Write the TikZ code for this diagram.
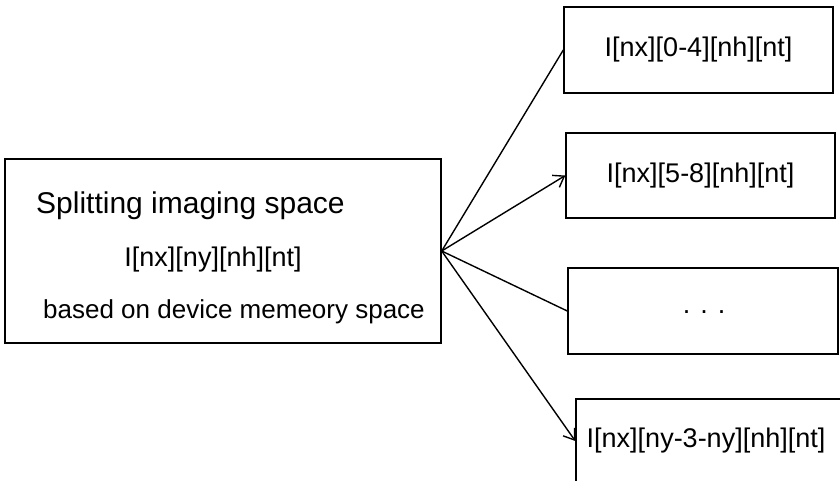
\documentclass[tikz,border=0pt]{standalone}
\usepackage{fontspec}
\setmainfont{Liberation Sans}
\usetikzlibrary{arrows.meta}
\begin{document}
\begin{tikzpicture}[x=1pt,y=-1pt,
  box/.style={draw,line width=1.4pt,rectangle,inner sep=0pt},
  conn/.style={line width=1.4pt},
  tip/.style={conn,-{Straight Barb[length=10pt,width=14pt,line width=1.4pt]}},
  lbl/.style={inner sep=0pt,font=\fontsize{27}{32}\selectfont}]
\useasboundingbox (0,0) rectangle (840,480);
\clip (0,0) rectangle (840,480);
% left box
\node[box,minimum width=436pt,minimum height=184pt] (L) at (223,251) {};
\node[lbl,anchor=base west,font=\fontsize{30}{34}\selectfont] (t1) at (36,213) {Splitting imaging space};
\node[lbl,anchor=base] (t2) at (213,266) {I[nx][ny][nh][nt]};
\node[lbl,anchor=base west,font=\fontsize{26}{30}\selectfont] (t3) at (43,318) {based on device memeory space};
% right boxes
\node[box,lbl,minimum width=269pt,minimum height=86pt] (B1) at (698.5,50) {I[nx][0-4][nh][nt]};
\node[box,lbl,minimum width=269pt,minimum height=85pt] (B2) at (700.5,175.5) {I[nx][5-8][nh][nt]};
\node[box,minimum width=270pt,minimum height=86pt] (B3) at (703,311) {};
\node[lbl,anchor=base] (d3) at (704,313) {.\hspace{10pt}.\hspace{10pt}.};
\node[box,minimum width=269pt,minimum height=84pt] (B4) at (710.5,441) {};
\node[lbl] (t4) at (706,441) {I[nx][ny-3-ny][nh][nt]};
% connectors
\draw[conn] (L.east) -- (B1.west);
\draw[tip] (L.east) -- (B2.west);
\draw[conn] (L.east) -- (B3.west);
\draw[tip] (L.east) -- (B4.west);
\end{tikzpicture}
\end{document}
